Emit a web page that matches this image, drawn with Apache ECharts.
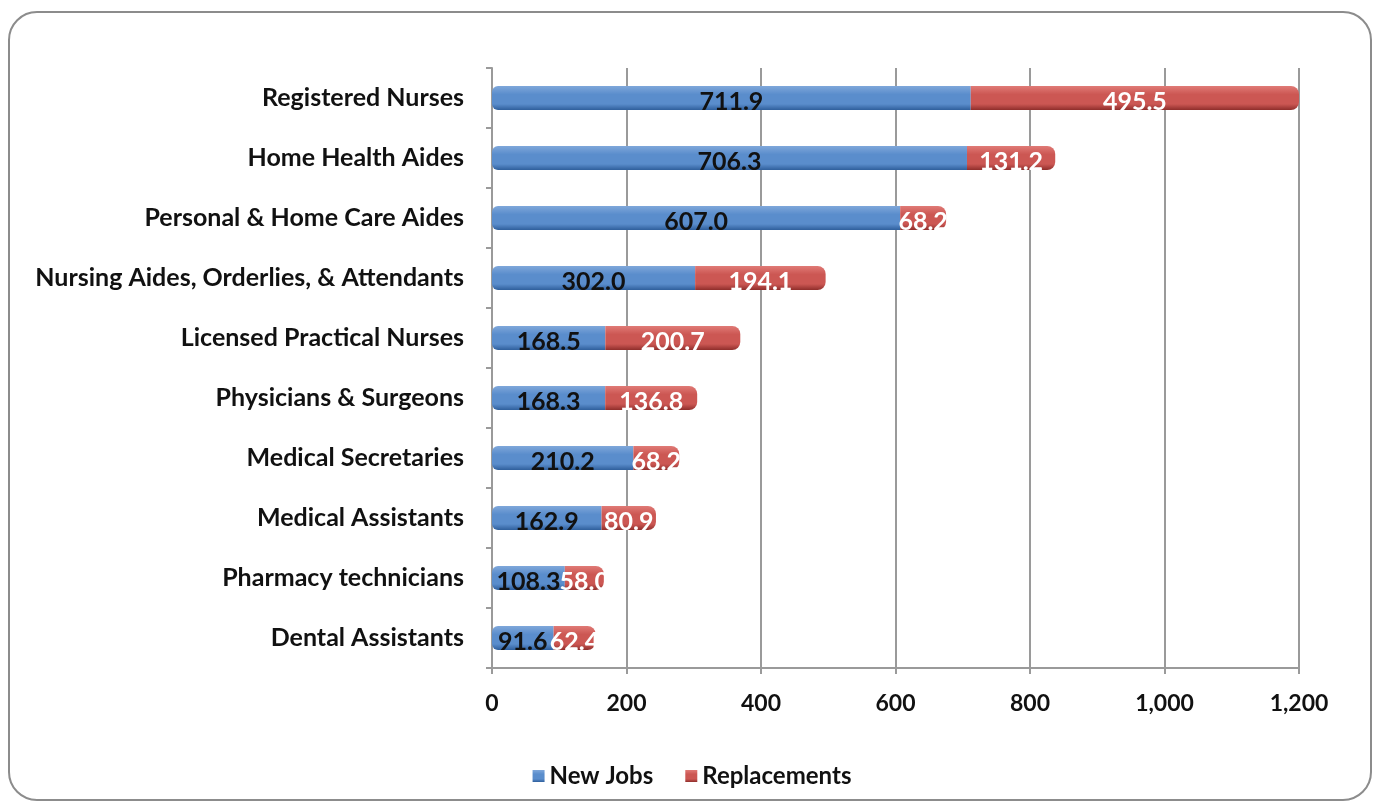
<!DOCTYPE html>
<html>
<head>
<meta charset="utf-8">
<script src="https://cdn.jsdelivr.net/npm/echarts@6/dist/echarts.min.js"></script>
<style>
  html, body { margin: 0; padding: 0; background: #fff; }
  #chart { width: 1384px; height: 808px; }
</style>
</head>
<body>
<div id="chart"></div>
<script>
// 数据
const categories = [
  'Registered Nurses',
  'Home Health Aides',
  'Personal & Home Care Aides',
  'Nursing Aides, Orderlies, & Attendants',
  'Licensed Practical Nurses',
  'Physicians & Surgeons',
  'Medical Secretaries',
  'Medical Assistants',
  'Pharmacy technicians',
  'Dental Assistants'
];
const newJobs = [711.9, 706.3, 607.0, 302.0, 168.5, 168.3, 210.2, 162.9, 108.3, 91.6];
const replacements = [495.5, 131.2, 68.2, 194.1, 200.7, 136.8, 68.2, 80.9, 58.0, 62.4];
const xTicks = [0, 200, 400, 600, 800, 1000, 1200];

const fontFamily = 'Lato, "Liberation Sans", sans-serif';

const myChart = echarts.init(document.getElementById('chart'));

// 圆柱效果的渐变
function cyl(top, mid, bottom) {
  return new echarts.graphic.LinearGradient(0, 0, 0, 1, [
    { offset: 0, color: top },
    { offset: 0.35, color: mid },
    { offset: 0.75, color: mid },
    { offset: 1, color: bottom }
  ]);
}

myChart.setOption({
  animation: false,
  color: ['#4F81BD', '#C0504D'],
  graphic: [{
    type: 'rect',
    shape: { x: 9, y: 12, width: 1362, height: 788, r: 28 },
    style: { fill: 'none', stroke: '#8c8c8c', lineWidth: 2 },
    z: -10
  }],
  legend: {
    left: 'center',
    top: 759,
    itemWidth: 12,
    itemHeight: 12,
    itemGap: 32,
    icon: 'rect',
    textStyle: { color: '#111', fontSize: 24, fontWeight: 'bold', fontFamily: fontFamily }
  },
  grid: {
    left: 492,
    right: 85,
    top: 68,
    bottom: 140,
    containLabel: false
  },
  xAxis: {
    type: 'value',
    min: xTicks[0],
    max: xTicks[xTicks.length - 1],
    interval: 200,
    axisLine: { show: true, lineStyle: { color: '#9a9a9a', width: 2 } },
    axisTick: { show: true, length: 6, lineStyle: { color: '#9a9a9a', width: 2 } },
    axisLabel: {
      color: '#111',
      fontSize: 23,
      fontWeight: 'bold',
      fontFamily: fontFamily,
      margin: 24,
      formatter: v => v.toLocaleString('en-US')
    },
    splitLine: { show: true, lineStyle: { color: '#9a9a9a', width: 2 } }
  },
  yAxis: {
    type: 'category',
    inverse: true,
    data: categories,
    axisLine: { show: true, lineStyle: { color: '#9a9a9a', width: 2 } },
    axisTick: { show: true, length: 6, lineStyle: { color: '#9a9a9a', width: 2 } },
    axisLabel: {
      color: '#111',
      fontSize: 25,
      fontWeight: 'bold',
      fontFamily: fontFamily,
      margin: 28
    }
  },
  series: [
    {
      name: 'New Jobs',
      type: 'bar',
      stack: 'total',
      barWidth: 24,
      data: newJobs,
      itemStyle: {
        color: cyl('#7fa7da', '#5a8dcc', '#2f5f9c'),
        borderRadius: [6, 0, 0, 6]
      },
      label: {
        show: true,
        position: 'inside',
        offset: [0, 4],
        color: '#111',
        fontSize: 25,
        fontWeight: 'bold',
        fontFamily: fontFamily,
        formatter: p => p.value.toFixed(1)
      }
    },
    {
      name: 'Replacements',
      type: 'bar',
      stack: 'total',
      barWidth: 24,
      data: replacements,
      itemStyle: {
        color: cyl('#e07a76', '#cc5753', '#8f2e2b'),
        borderRadius: [0, 8, 8, 0]
      },
      label: {
        show: true,
        position: 'inside',
        offset: [0, 4],
        color: '#fff',
        fontSize: 25,
        fontWeight: 'bold',
        fontFamily: fontFamily,
        formatter: p => p.value.toFixed(1)
      }
    }
  ]
});

window.addEventListener('resize', function () {
  myChart.resize();
});
</script>
</body>
</html>
